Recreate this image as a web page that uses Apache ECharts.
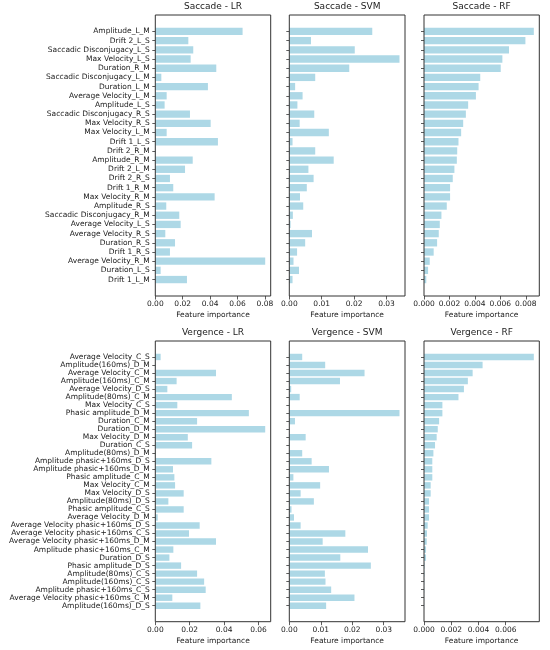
<!DOCTYPE html>
<html><head><meta charset="utf-8">
<script src="https://cdn.jsdelivr.net/npm/echarts@6/dist/echarts.min.js"></script>
<style>html,body{margin:0;padding:0;background:#fff}#c{width:550px;height:650px}</style>
</head><body><div id="c"></div><script>
// ---- Saccade data (top to bottom) ----
const saccadeCategories = ['Amplitude_L_M','Drift 2_L_S','Saccadic Disconjugacy_L_S','Max Velocity_L_S','Duration_R_M','Saccadic Disconjugacy_L_M','Duration_L_M','Average Velocity_L_M','Amplitude_L_S','Saccadic Disconjugacy_R_S','Max Velocity_R_S','Max Velocity_L_M','Drift 1_L_S','Drift 2_R_M','Amplitude_R_M','Drift 2_L_M','Drift 2_R_S','Drift 1_R_M','Max Velocity_R_M','Amplitude_R_S','Saccadic Disconjugacy_R_M','Average Velocity_L_S','Average Velocity_R_S','Duration_R_S','Drift 1_R_S','Average Velocity_R_M','Duration_L_S','Drift 1_L_M'];
const saccadeLR = [0.0637,0.0241,0.0277,0.0258,0.0445,0.0044,0.0384,0.0083,0.0068,0.0253,0.0404,0.0083,0.0457,0.0002,0.0273,0.0217,0.0107,0.0131,0.0433,0.0080,0.0175,0.0185,0.0073,0.0144,0.0107,0.0802,0.0039,0.0231];
const saccadeSVM = [0.0256,0.0067,0.0202,0.0340,0.0185,0.0080,0.0018,0.0041,0.0025,0.0077,0.0032,0.0122,0.0010,0.0080,0.0137,0.0059,0.0075,0.0054,0.0033,0.0043,0.0011,0.0004,0.0070,0.0049,0.0024,0.0013,0.0030,0.0010];
const saccadeRF = [0.00863,0.00797,0.00668,0.00616,0.00603,0.00442,0.00429,0.00408,0.00347,0.00329,0.00308,0.00292,0.00271,0.00261,0.00258,0.00239,0.00226,0.00205,0.00205,0.00179,0.00137,0.00124,0.00116,0.00103,0.00076,0.00045,0.00032,0.00018];
// ---- Vergence data (top to bottom) ----
const vergenceCategories = ['Average Velocity_C_S','Amplitude(160ms)_D_M','Average Velocity_C_M','Amplitude(160ms)_C_M','Average Velocity_D_S','Amplitude(80ms)_C_M','Max Velocity_C_S','Phasic amplitude_D_M','Duration_C_M','Duration_D_M','Max Velocity_D_M','Duration_C_S','Amplitude(80ms)_D_M','Amplitude phasic+160ms_D_S','Amplitude phasic+160ms_D_M','Phasic amplitude_C_M','Max Velocity_C_M','Max Velocity_D_S','Amplitude(80ms)_D_S','Phasic amplitude_C_S','Average Velocity_D_M','Average Velocity phasic+160ms_D_S','Average Velocity phasic+160ms_C_S','Average Velocity phasic+160ms_D_M','Amplitude phasic+160ms_C_M','Duration_D_S','Phasic amplitude_D_S','Amplitude(80ms)_C_S','Amplitude(160ms)_C_S','Amplitude phasic+160ms_C_S','Average Velocity phasic+160ms_C_M','Amplitude(160ms)_D_S'];
const vergenceLR = [0.0031,0.0002,0.0353,0.0124,0.0070,0.0445,0.0128,0.0544,0.0243,0.0639,0.0189,0.0214,0.0002,0.0326,0.0103,0.0111,0.0115,0.0165,0.0076,0.0165,0.0014,0.0258,0.0196,0.0353,0.0105,0.0082,0.0150,0.0243,0.0284,0.0293,0.0099,0.0262];
const vergenceSVM = [0.0041,0.0114,0.0239,0.0161,0.0006,0.0033,0.0001,0.0350,0.0018,0.0001,0.0052,0.0001,0.0041,0.0071,0.0126,0.0013,0.0098,0.0036,0.0078,0.0007,0.0015,0.0036,0.0178,0.0106,0.0250,0.0162,0.0259,0.0113,0.0115,0.0133,0.0207,0.0117];
const vergenceRF = [0.00806,0.00430,0.00357,0.00322,0.00293,0.00253,0.00135,0.00135,0.00111,0.00101,0.00093,0.00081,0.00069,0.00061,0.00061,0.00061,0.00049,0.00049,0.00037,0.00037,0.00037,0.00027,0.00022,0.00020,0.00015,0.00015,0.00004,0.00003,0.00002,0.00002,0.00001,0.00001];
// ---- Tick labels ----
const ticksSaccadeLR = [0, 0.02, 0.04, 0.06, 0.08];
const ticksSaccadeSVM = [0, 0.01, 0.02, 0.03];
const ticksSaccadeRF = [0, 0.002, 0.004, 0.006, 0.008];
const ticksVergenceLR = [0, 0.02, 0.04, 0.06];
const ticksVergenceSVM = [0, 0.01, 0.02, 0.03];
const ticksVergenceRF = [0, 0.002, 0.004, 0.006];
const titles = ['Saccade - LR','Saccade - SVM','Saccade - RF','Vergence - LR','Vergence - SVM','Vergence - RF'];

const FONT = 'DejaVu Sans';
const TXT = '#1a1a1a';
const BAR = '#ADD8E6';
const LINE = '#333';
const cols = [{left:155.3,width:115.4},{left:289.3,width:115.7},{left:424,width:115.3}];
const rows = [{top:15,height:281},{top:341,height:280.7}];
const panels = [
  {row:0,col:0,cats:saccadeCategories,vals:saccadeLR,ticks:ticksSaccadeLR,dec:2},
  {row:0,col:1,cats:saccadeCategories,vals:saccadeSVM,ticks:ticksSaccadeSVM,dec:2},
  {row:0,col:2,cats:saccadeCategories,vals:saccadeRF,ticks:ticksSaccadeRF,dec:3},
  {row:1,col:0,cats:vergenceCategories,vals:vergenceLR,ticks:ticksVergenceLR,dec:2},
  {row:1,col:1,cats:vergenceCategories,vals:vergenceSVM,ticks:ticksVergenceSVM,dec:2},
  {row:1,col:2,cats:vergenceCategories,vals:vergenceRF,ticks:ticksVergenceRF,dec:3}
];
const grid=[], xAxis=[], yAxis=[], series=[], title=[];
panels.forEach((p,i)=>{
  const c=cols[p.col], r=rows[p.row];
  const n=p.cats.length;
  const units=(n-0.2)*1.1, insetU=0.05*(n-0.2)-0.1;
  const inset=r.height*insetU/units;
  const gi=grid.length;
  grid.push({left:c.left,width:c.width,top:r.top+inset,height:r.height-2*inset,show:false});
  xAxis.push({gridIndex:gi,type:'value',min:0,max:Math.max(...p.vals)*1.05,offset:inset,
    axisLine:{show:false},splitLine:{show:false},
    axisTick:{show:true,customValues:p.ticks,length:3.5,lineStyle:{color:LINE,width:0.8}},
    axisLabel:{customValues:p.ticks,formatter:v=>Number(v).toFixed(p.dec),fontSize:7.5,fontFamily:FONT,color:TXT,margin:4.5},
    name:'Feature importance',nameLocation:'middle',nameGap:15,
    nameTextStyle:{fontSize:7.5,fontFamily:FONT,color:TXT}});
  yAxis.push({gridIndex:gi,type:'category',data:p.cats,inverse:true,
    axisLine:{show:false},splitLine:{show:false},
    axisTick:{show:true,alignWithLabel:true,length:3,lineStyle:{color:LINE,width:0.8}},
    axisLabel:{show:p.col===0,interval:0,fontSize:7.5,fontFamily:FONT,color:TXT,margin:5.5}});
  series.push({type:'bar',xAxisIndex:gi,yAxisIndex:gi,data:p.vals,barWidth:'80%',itemStyle:{color:BAR},silent:true,animation:false});
  const fi=grid.length;
  grid.push({left:c.left,width:c.width,top:r.top,height:r.height,show:true,borderColor:LINE,borderWidth:1,backgroundColor:'transparent',z:10});
  xAxis.push({gridIndex:fi,type:'value',show:false});
  yAxis.push({gridIndex:fi,type:'value',show:false});
  title.push({text:titles[i],left:c.left+c.width/2,top:r.top-13,textAlign:'center',padding:0,
    textStyle:{fontSize:9,fontWeight:'normal',fontFamily:FONT,color:TXT}});
});
const chart=echarts.init(document.getElementById('c'),null,{renderer:'canvas'});
chart.setOption({animation:false,backgroundColor:'#fff',title,grid,xAxis,yAxis,series});
</script></body></html>
